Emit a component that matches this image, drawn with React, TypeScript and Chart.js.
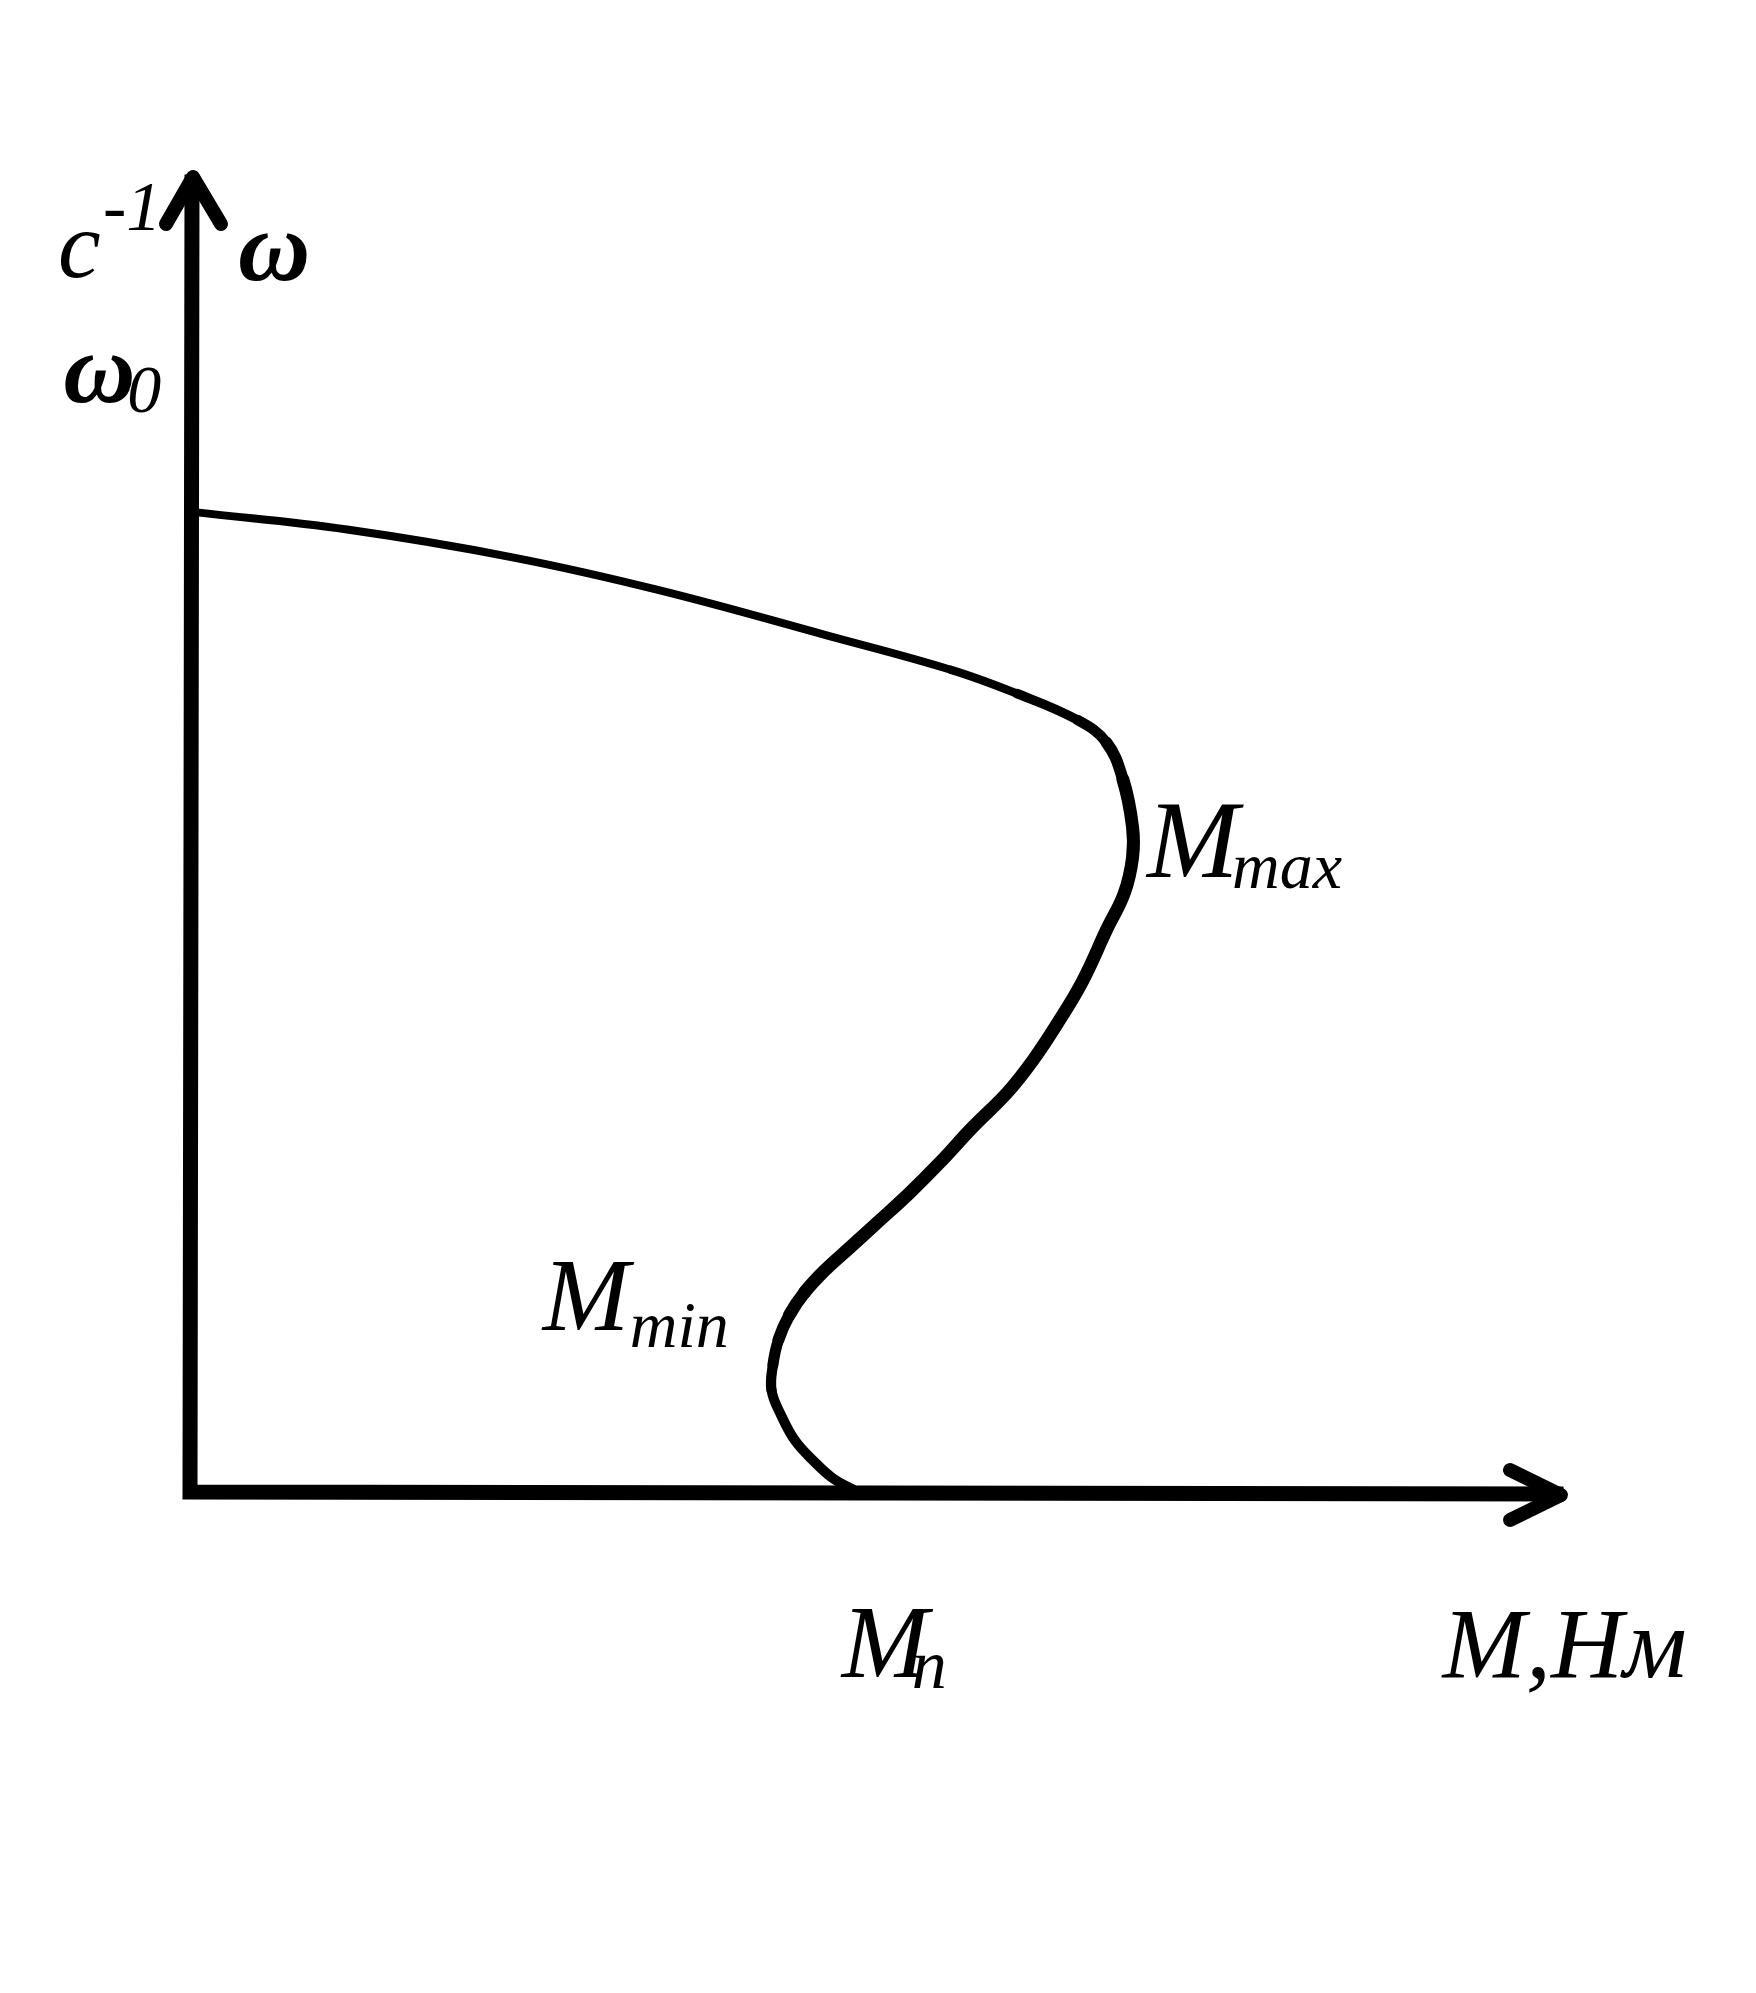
import { useEffect, useRef } from "react"
import { Chart, registerables } from "chart.js"

Chart.register(...registerables)

// torque M (x) and angular speed ω (y), arbitrary units 0..10
const TORQUE = [
  0.05, 1.14, 2.34, 3.41, 4.62, 5.52, 6.0, 6.44, 6.65, 6.77, 6.84, 6.84, 6.78, 6.65, 6.48, 6.31,
  6.12, 5.93, 5.68, 5.44, 5.22, 4.99, 4.79, 4.61, 4.46, 4.35, 4.27, 4.23, 4.22, 4.29, 4.39, 4.53,
  4.67, 4.81,
]
const SPEED = [
  7.41, 7.28, 7.07, 6.82, 6.48, 6.22, 6.04, 5.84, 5.67, 5.39, 5.03, 4.8, 4.53, 4.25, 3.87, 3.57,
  3.27, 3.02, 2.76, 2.49, 2.26, 2.04, 1.85, 1.68, 1.51, 1.34, 1.15, 0.96, 0.77, 0.58, 0.39, 0.23,
  0.1, 0.02,
]

const X_AXIS_END = 10
const Y_AXIS_END = 10

// annotation texts: main glyph + optional sub/superscript
const LABELS = [
  { text: "с", sub: "-1", x: -0.958, y: 9.19, size: 96, subSize: 70, dx: 45, dy: -47, weight: "normal" },
  { text: "ω", sub: "", x: 0.348, y: 9.17, size: 100, subSize: 0, dx: 0, dy: 0, weight: "bold" },
  { text: "ω", sub: "0", x: -0.92, y: 8.245, size: 100, subSize: 68, dx: 64, dy: 10, weight: "bold" },
  { text: "M", sub: "max", x: 6.945, y: 4.652, size: 110, subSize: 66, dx: 85, dy: 11, weight: "normal" },
  { text: "M", sub: "min", x: 2.56, y: 1.225, size: 104, subSize: 66, dx: 87, dy: 17, weight: "normal" },
  { text: "M", sub: "n", x: 4.73, y: -1.4, size: 104, subSize: 70, dx: 70, dy: 11, weight: "normal" },
  { text: "M,Нм", sub: "", x: 9.09, y: -1.4, size: 100, subSize: 0, dx: 0, dy: 0, weight: "normal" },
]

const FONT = "'Liberation Serif', 'DejaVu Serif', serif"

// pen gets heavier on the S-shaped part of the curve
function penWidth(y: number) {
  if (y >= 6.2) return 8
  if (y >= 5.3) return 8 + ((6.2 - y) / 0.9) * 5
  if (y >= 1.5) return 13
  if (y >= 0.8) return 10 + ((y - 0.8) / 0.7) * 3
  return 10
}

const axesPlugin = {
  id: "axesAndLabels",
  afterDatasetsDraw(chart: Chart) {
    const { ctx } = chart
    const xs = chart.scales.x
    const ys = chart.scales.y
    const x0 = xs.getPixelForValue(0)
    const y0 = ys.getPixelForValue(0)
    const xEnd = xs.getPixelForValue(X_AXIS_END)
    const yEnd = ys.getPixelForValue(Y_AXIS_END)

    ctx.save()
    ctx.strokeStyle = "#000"
    ctx.fillStyle = "#000"

    // axes
    ctx.lineWidth = 15
    ctx.lineCap = "square"
    ctx.lineJoin = "miter"
    ctx.beginPath()
    ctx.moveTo(x0 + 2, yEnd + 12)
    ctx.lineTo(x0, y0)
    ctx.lineTo(xEnd - 12, y0 + 2)
    ctx.stroke()

    // arrow heads
    ctx.lineWidth = 14
    ctx.lineCap = "round"
    ctx.lineJoin = "round"
    ctx.beginPath()
    ctx.moveTo(x0 - 24, yEnd + 54)
    ctx.lineTo(x0 + 3, yEnd + 7)
    ctx.lineTo(x0 + 31, yEnd + 54)
    ctx.stroke()
    ctx.beginPath()
    ctx.moveTo(xEnd - 58, y0 - 22)
    ctx.lineTo(xEnd - 7, y0 + 3)
    ctx.lineTo(xEnd - 58, y0 + 28)
    ctx.stroke()

    // labels
    ctx.textAlign = "left"
    ctx.textBaseline = "alphabetic"
    LABELS.forEach((l) => {
      const px = xs.getPixelForValue(l.x)
      const py = ys.getPixelForValue(l.y)
      ctx.font = `italic ${l.weight} ${l.size}px ${FONT}`
      ctx.fillText(l.text, px, py)
      if (l.sub) {
        ctx.font = `italic ${l.subSize}px ${FONT}`
        ctx.fillText(l.sub, px + l.dx, py + l.dy)
      }
    })
    ctx.restore()
  },
}

export default function App() {
  const chartRef = useRef<HTMLCanvasElement>(null)
  const chartInstance = useRef<Chart | null>(null)

  useEffect(() => {
    if (!chartRef.current) return
    if (chartInstance.current) {
      chartInstance.current.destroy()
    }
    const ctx = chartRef.current.getContext("2d")
    if (!ctx) return

    chartInstance.current = new Chart(ctx, {
      type: "scatter",
      data: {
        datasets: [
          {
            label: "ω(M)",
            data: TORQUE.map((m, i) => ({ x: m, y: SPEED[i] })),
            showLine: true,
            borderColor: "#000",
            borderWidth: 8,
            borderCapStyle: "round",
            borderJoinStyle: "round",
            pointRadius: 0,
            tension: 0.4,
            clip: false,
            segment: {
              borderWidth: (c: any) => penWidth((c.p0.parsed.y + c.p1.parsed.y) / 2),
            },
          },
        ],
      },
      options: {
        animation: false,
        responsive: true,
        maintainAspectRatio: false,
        layout: {
          padding: { left: 190, right: 188, top: 170, bottom: 501 },
        },
        plugins: {
          legend: { display: false },
          tooltip: { enabled: false },
        },
        scales: {
          x: { type: "linear", min: 0, max: X_AXIS_END, display: false },
          y: { type: "linear", min: 0, max: Y_AXIS_END, display: false },
        },
      },
      plugins: [axesPlugin],
    })

    return () => {
      if (chartInstance.current) {
        chartInstance.current.destroy()
        chartInstance.current = null
      }
    }
  }, [])

  return (
    <div style={{ position: "fixed", left: 0, top: 0, width: 1756, height: 1993, background: "#fff" }}>
      <canvas ref={chartRef} />
    </div>
  )
}
